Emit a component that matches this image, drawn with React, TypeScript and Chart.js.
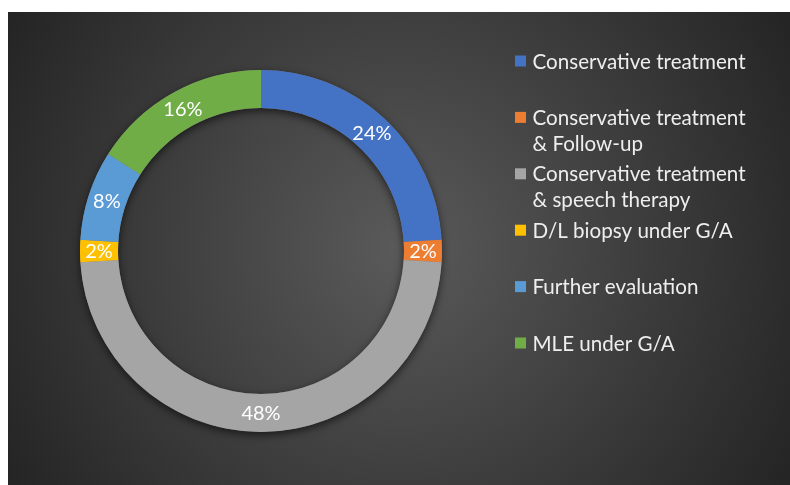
import { useEffect, useRef } from 'react';
import { Chart, registerables } from 'chart.js';

Chart.register(...registerables);

const categories: string[][] = [
  ['Conservative treatment'],
  ['Conservative treatment', '& Follow-up'],
  ['Conservative treatment', '& speech therapy'],
  ['D/L biopsy under G/A'],
  ['Further evaluation'],
  ['MLE under G/A'],
];
const shares = [24, 2, 48, 2, 8, 16];
const colors = ['#4472C4', '#ED7D31', '#A5A5A5', '#FFC000', '#5B9BD5', '#70AD47'];

const FONT = 'Lato, "Open Sans", sans-serif';

const ringShadow = {
  id: 'ringShadow',
  beforeDatasetsDraw(chart: any) {
    const meta = chart.getDatasetMeta(0);
    const arc = meta.data[0];
    if (!arc) return;
    const { x, y, innerRadius, outerRadius } = arc.getProps(['x', 'y', 'innerRadius', 'outerRadius'], true);
    const ctx = chart.ctx;
    ctx.save();
    ctx.shadowColor = 'rgba(0,0,0,0.6)';
    ctx.shadowBlur = 8;
    ctx.shadowOffsetY = 3;
    ctx.beginPath();
    ctx.arc(x, y, outerRadius, 0, Math.PI * 2);
    ctx.arc(x, y, innerRadius, 0, Math.PI * 2, true);
    ctx.closePath();
    ctx.fillStyle = '#777';
    ctx.fill();
    ctx.restore();
  },
};

const sliceLabels = {
  id: 'sliceLabels',
  afterDatasetsDraw(chart: any) {
    const meta = chart.getDatasetMeta(0);
    const ctx = chart.ctx;
    const data = chart.data.datasets[0].data as number[];
    ctx.save();
    ctx.font = `20px ${FONT}`;
    ctx.fillStyle = '#ffffff';
    ctx.textAlign = 'center';
    ctx.textBaseline = 'middle';
    meta.data.forEach((arc: any, i: number) => {
      const p = arc.tooltipPosition();
      ctx.fillText(`${data[i]}%`, p.x, p.y + 1);
    });
    ctx.restore();
  },
};

const sideLegend = {
  id: 'sideLegend',
  afterDraw(chart: any) {
    const ctx = chart.ctx;
    const labels = chart.data.labels as string[][];
    const bg = chart.data.datasets[0].backgroundColor as string[];
    const boxX = 507;
    const textX = 524.5;
    const top = 49;
    const step = 56.4;
    const lineH = 26;
    ctx.save();
    ctx.font = `20.6px ${FONT}`;
    ctx.textBaseline = 'middle';
    ctx.textAlign = 'left';
    labels.forEach((lines, i) => {
      const cy = top + i * step;
      ctx.fillStyle = bg[i];
      ctx.fillRect(boxX, cy - 5.5, 11, 11);
      ctx.fillStyle = '#eeeeee';
      lines.forEach((ln, j) => ctx.fillText(ln, textX, cy + 1 + j * lineH));
    });
    ctx.restore();
  },
};

export default function App() {
  const ref = useRef<HTMLCanvasElement>(null);
  useEffect(() => {
    document.documentElement.style.overflow = 'hidden';
    if (!ref.current) return;
    const chart = new Chart(ref.current, {
      type: 'doughnut',
      data: {
        labels: categories as any,
        datasets: [
          {
            data: shares,
            backgroundColor: colors,
            borderWidth: 0,
          },
        ],
      },
      options: {
        responsive: false,
        animation: false,
        cutout: '79%',
        layout: { padding: { left: 72, right: 348, top: 58, bottom: 53 } },
        plugins: {
          legend: { display: false },
          tooltip: { enabled: false },
        },
      },
      plugins: [ringShadow, sliceLabels, sideLegend],
    });
    return () => chart.destroy();
  }, []);
  return (
    <div
      style={{
        position: 'fixed',
        left: 8,
        top: 12,
        right: 0,
        bottom: 0,
        overflow: 'hidden',
        background: 'radial-gradient(circle farthest-corner at 50% 50%, #5a5a5a 0%, #242424 100%)',
      }}
    >
      <canvas ref={ref} width={782} height={473} style={{ display: 'block' }} />
    </div>
  );
}
